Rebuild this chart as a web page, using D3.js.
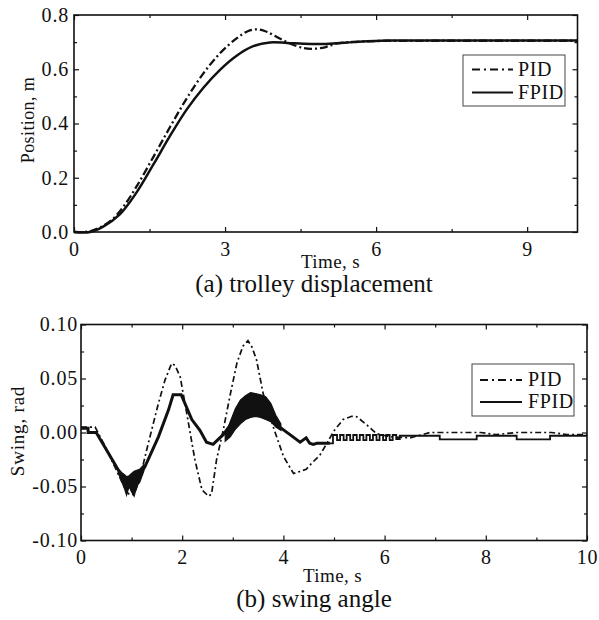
<!DOCTYPE html>
<html>
<head>
<meta charset="utf-8">
<script src="https://cdn.jsdelivr.net/npm/d3@7"></script>
<style>
  body { margin: 0; background: #fff; }
  svg text { font-family: "Liberation Serif", "Times New Roman", serif; fill: #111; }
</style>
</head>
<body>
<div id="chart"></div>
<script>
// Data: [time (s), value]

// (a) trolley displacement
const pidPosition = [
  [0, 0], [0.3, 0.002], [0.55, 0.02], [0.78, 0.05], [0.98, 0.093], [1.24, 0.167],
  [1.58, 0.278], [1.91, 0.388], [2.24, 0.493], [2.57, 0.585], [2.9, 0.659],
  [3.23, 0.714], [3.45, 0.74], [3.63, 0.747], [3.8, 0.74], [3.96, 0.726],
  [4.23, 0.7], [4.56, 0.678], [4.8, 0.676], [5.0, 0.682], [5.22, 0.695],
  [5.55, 0.701], [6, 0.704], [7, 0.705], [8, 0.705], [10, 0.705]
];
const fpidPosition = [
  [0, 0], [0.32, 0], [0.58, 0.02], [0.91, 0.065], [1.24, 0.145], [1.58, 0.25],
  [1.91, 0.355], [2.24, 0.452], [2.57, 0.532], [2.9, 0.598], [3.23, 0.65],
  [3.56, 0.685], [3.89, 0.699], [4.23, 0.697], [4.56, 0.694], [4.89, 0.693],
  [5.22, 0.696], [5.55, 0.7], [6.21, 0.706], [7, 0.706], [10, 0.706]
];

// (b) swing angle
const pidSwing = [
  [0, 0.005], [0.28, 0.005], [0.5, -0.015], [0.75, -0.04], [0.9, -0.055],
  [0.97, -0.058], [1.05, -0.057], [1.15, -0.045], [1.33, -0.01], [1.53, 0.027],
  [1.66, 0.0485], [1.79, 0.064], [1.86, 0.062], [1.96, 0.0516], [2.09, 0.0177],
  [2.25, -0.025], [2.39, -0.053], [2.52, -0.059], [2.58, -0.057], [2.68, -0.025],
  [2.81, 0.002], [2.94, 0.033], [3.08, 0.064], [3.2, 0.08], [3.3, 0.085],
  [3.38, 0.079], [3.47, 0.067], [3.6, 0.036], [3.8, 0.005], [4.0, -0.022],
  [4.2, -0.038], [4.33, -0.036], [4.45, -0.034], [4.59, -0.027], [4.72, -0.021],
  [4.86, -0.01], [4.99, 0.001], [5.18, 0.012], [5.35, 0.015], [5.45, 0.0146],
  [5.65, 0.007], [5.84, -0.001], [6.1, -0.004], [6.5, -0.005], [6.9, 0],
  [7.9, 0], [8.2, -0.002], [8.6, 0], [9.3, 0], [9.6, -0.002], [10, -0.002]
];
const fpidSwing = [
  [0, 0.004], [0.14, 0.004], [0.14, 0], [0.3, 0], [0.54, -0.019], [0.74, -0.035],
  [0.9, -0.045], [1.0, -0.047], [1.1, -0.044], [1.26, -0.032], [1.53, -0.004],
  [1.73, 0.021], [1.82, 0.035], [1.98, 0.035], [2.19, 0.012], [2.35, 0.002],
  [2.48, -0.009], [2.61, -0.011], [2.81, -0.002], [3.0, 0.01], [3.2, 0.022],
  [3.35, 0.025], [3.5, 0.024], [3.7, 0.02], [3.93, 0.005], [4.13, -0.002],
  [4.33, -0.009], [4.45, -0.005], [4.52, -0.01], [4.59, -0.011], [4.66, -0.01],
  [4.92, -0.01]
];
// stair-stepped tail of FPID swing (step after each point)
const fpidSwingTail = [
  [4.92, -0.01], [4.98, -0.0023], [5.06, -0.007], [5.12, -0.0023], [5.19, -0.007],
  [5.25, -0.0023], [5.32, -0.007], [5.38, -0.0023], [5.45, -0.007], [5.51, -0.0023],
  [5.58, -0.007], [5.64, -0.0023], [5.71, -0.007], [5.77, -0.0023], [5.84, -0.007],
  [5.9, -0.0023], [5.97, -0.007], [6.03, -0.0023], [6.1, -0.007], [6.16, -0.0023],
  [6.23, -0.006], [6.3, -0.003], [7.09, -0.0063], [7.82, -0.003], [8.61, -0.0063],
  [9.27, -0.003], [10, -0.003]
];
// chattering bands of FPID swing: [time, low, high]
const fpidBandTrough = [
  [0.74, -0.038, -0.034], [0.8, -0.045, -0.037], [0.86, -0.052, -0.039],
  [0.9, -0.058, -0.041], [0.95, -0.05, -0.04], [1.0, -0.055, -0.038],
  [1.05, -0.059, -0.036], [1.1, -0.05, -0.035], [1.16, -0.046, -0.034],
  [1.24, -0.036, -0.03]
];
const fpidBandPeak = [
  [2.85, -0.008, -0.002], [2.95, -0.004, 0.01], [3.05, 0.003, 0.022],
  [3.15, 0.008, 0.03], [3.25, 0.012, 0.034], [3.35, 0.014, 0.037],
  [3.45, 0.015, 0.036], [3.55, 0.014, 0.035], [3.65, 0.012, 0.033],
  [3.75, 0.01, 0.027], [3.85, 0.005, 0.016], [3.95, 0.002, 0.008]
];

// tick values
const posXTicks = [0, 3, 6, 9];
const posXMinor = [1.5, 4.5, 7.5];
const posYTicks = [0, 0.2, 0.4, 0.6, 0.8];
const posYMinor = [0.1, 0.3, 0.5, 0.7];
const swingXTicks = [0, 2, 4, 6, 8, 10];
const swingXMinor = [1, 3, 5, 7, 9];
const swingYTicks = [-0.1, -0.05, 0, 0.05, 0.1];
const swingYMinor = [-0.075, -0.025, 0.025, 0.075];
const legendLabels = ["PID", "FPID"];

const width = 599;
const height = 620;

const svg = d3.select("#chart").append("svg")
  .attr("width", width).attr("height", height);

function panel(box, xDomain, yDomain, ticks, fmt) {
  const x = d3.scaleLinear().domain(xDomain).range([box.left, box.right]);
  const y = d3.scaleLinear().domain(yDomain).range([box.bottom, box.top]);
  const g = svg.append("g");

  const style = (sel) => {
    sel.select(".domain").remove();
    sel.selectAll("line").attr("stroke", "#111").attr("stroke-width", 1.2);
    sel.selectAll("text").attr("font-size", 20).attr("fill", "#111")
      .attr("letter-spacing", 0.8)
      .attr("font-family", '"Liberation Serif", serif');
  };

  // major ticks with labels
  g.append("g").attr("transform", `translate(0,${box.bottom})`)
    .call(d3.axisBottom(x).tickValues(ticks.x).tickSize(-5).tickPadding(box.xPad).tickFormat(d => d))
    .call(style);
  g.append("g").attr("transform", `translate(${box.left},0)`)
    .call(d3.axisLeft(y).tickValues(ticks.y).tickSize(-5).tickPadding(box.yPad).tickFormat(fmt))
    .call(style);
  // mirrored ticks
  g.append("g").attr("transform", `translate(0,${box.top})`)
    .call(d3.axisTop(x).tickValues(ticks.x).tickSize(-5).tickFormat(""))
    .call(style);
  g.append("g").attr("transform", `translate(${box.right},0)`)
    .call(d3.axisRight(y).tickValues(ticks.y).tickSize(-5).tickFormat(""))
    .call(style);
  // minor ticks
  g.append("g").attr("transform", `translate(0,${box.bottom})`)
    .call(d3.axisBottom(x).tickValues(ticks.xm).tickSize(-3).tickFormat("")).call(style);
  g.append("g").attr("transform", `translate(0,${box.top})`)
    .call(d3.axisTop(x).tickValues(ticks.xm).tickSize(-3).tickFormat("")).call(style);
  g.append("g").attr("transform", `translate(${box.left},0)`)
    .call(d3.axisLeft(y).tickValues(ticks.ym).tickSize(-3).tickFormat("")).call(style);
  g.append("g").attr("transform", `translate(${box.right},0)`)
    .call(d3.axisRight(y).tickValues(ticks.ym).tickSize(-3).tickFormat("")).call(style);

  return { x, y, g };
}

// ---------- (a) trolley displacement ----------
const boxA = { left: 74, right: 577.5, top: 15, bottom: 232, xPad: 10, yPad: 5 };
const A = panel(boxA, [0, 10], [0, 0.8],
  { x: posXTicks, xm: posXMinor, y: posYTicks, ym: posYMinor }, d => d.toFixed(1));

const lineA = d3.line().x(d => A.x(d[0])).y(d => A.y(d[1])).curve(d3.curveCatmullRom);

A.g.append("path").datum(fpidPosition).attr("d", lineA)
  .attr("fill", "none").attr("stroke", "#111").attr("stroke-width", 2.5);
A.g.append("path").datum(pidPosition).attr("d", lineA)
  .attr("fill", "none").attr("stroke", "#111").attr("stroke-width", 2.3)
  .attr("stroke-dasharray", "8,3,2,3");

A.g.append("rect")
  .attr("x", boxA.left).attr("y", boxA.top)
  .attr("width", boxA.right - boxA.left).attr("height", boxA.bottom - boxA.top)
  .attr("fill", "none").attr("stroke", "#111").attr("stroke-width", 1.6);

A.g.append("text").attr("x", 301).attr("y", 268).attr("font-size", 19)
  .attr("letter-spacing", 0.4).text("Time, s");
A.g.append("text").attr("transform", "translate(34,120) rotate(-90)")
  .attr("text-anchor", "middle").attr("font-size", 18).attr("letter-spacing", 0.4)
  .text("Position, m");
svg.append("text").attr("x", 314).attr("y", 292).attr("text-anchor", "middle")
  .attr("font-size", 25).text("(a) trolley displacement");

// ---------- (b) swing angle ----------
const boxB = { left: 81, right: 587, top: 324.5, bottom: 540.5, xPad: 9, yPad: 3 };
const B = panel(boxB, [0, 10], [-0.1, 0.1],
  { x: swingXTicks, xm: swingXMinor, y: swingYTicks, ym: swingYMinor }, d => d.toFixed(2));

const lineB = d3.line().x(d => B.x(d[0])).y(d => B.y(d[1]));
const stepB = d3.line().x(d => B.x(d[0])).y(d => B.y(d[1])).curve(d3.curveStepAfter);
const bandB = d3.area().x(d => B.x(d[0])).y0(d => B.y(d[1])).y1(d => B.y(d[2]));

[fpidBandTrough, fpidBandPeak].forEach(band => {
  B.g.append("path").datum(band).attr("d", bandB)
    .attr("fill", "#111").attr("stroke", "#111").attr("stroke-width", 1.2);
});
B.g.append("path").datum(fpidSwing).attr("d", lineB)
  .attr("fill", "none").attr("stroke", "#111").attr("stroke-width", 3);
B.g.append("path").datum(fpidSwingTail).attr("d", stepB)
  .attr("fill", "none").attr("stroke", "#111").attr("stroke-width", 1.8);
B.g.append("path").datum(pidSwing).attr("d", lineB)
  .attr("fill", "none").attr("stroke", "#111").attr("stroke-width", 1.7)
  .attr("stroke-dasharray", "6,3,2,3");

B.g.append("rect")
  .attr("x", boxB.left).attr("y", boxB.top)
  .attr("width", boxB.right - boxB.left).attr("height", boxB.bottom - boxB.top)
  .attr("fill", "none").attr("stroke", "#111").attr("stroke-width", 1.6);

B.g.append("text").attr("x", 303).attr("y", 582).attr("font-size", 19)
  .attr("letter-spacing", 0.4).text("Time, s");
B.g.append("text").attr("transform", "translate(24,431) rotate(-90)")
  .attr("text-anchor", "middle").attr("font-size", 19).attr("letter-spacing", 0.8)
  .text("Swing, rad");
svg.append("text").attr("x", 314).attr("y", 607).attr("text-anchor", "middle")
  .attr("font-size", 25).text("(b) swing angle");

// ---------- legends ----------
function legend(x0, y0, w, h, sx1, sx2, tx, rows) {
  const lg = svg.append("g");
  lg.append("rect").attr("x", x0).attr("y", y0).attr("width", w).attr("height", h)
    .attr("fill", "#fff").attr("stroke", "#444").attr("stroke-width", 1);
  rows.forEach((r, i) => {
    lg.append("line").attr("x1", sx1).attr("x2", sx2).attr("y1", r.ly).attr("y2", r.ly)
      .attr("stroke", "#111").attr("stroke-width", 2)
      .attr("stroke-dasharray", i === 0 ? "8,4,2,4" : null);
    lg.append("text").attr("x", tx).attr("y", r.ty).attr("font-size", 20)
      .attr("letter-spacing", 0.6).text(legendLabels[i]);
  });
}
legend(463, 55, 102, 51, 472, 513, 518, [{ ly: 69.5, ty: 76 }, { ly: 92.5, ty: 98.5 }]);
legend(472, 364, 102, 52, 480, 522, 528, [{ ly: 380, ty: 386 }, { ly: 402, ty: 408 }]);
</script>
</body>
</html>
